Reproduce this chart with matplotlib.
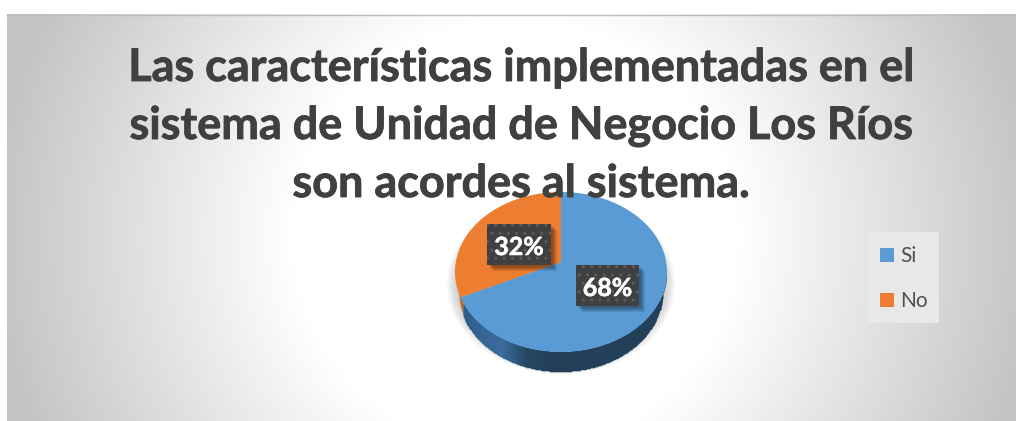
import numpy as np
import matplotlib
matplotlib.use('Agg')
import matplotlib.pyplot as plt
import matplotlib.patheffects as pe
from matplotlib.colors import LinearSegmentedColormap
from matplotlib.patches import Rectangle, Ellipse, Polygon
from matplotlib.transforms import Affine2D

categories = ['Si', 'No']
values = [68, 32]
title_lines = ['Las características implementadas en el',
               'sistema de Unidad de Negocio Los Ríos',
               'son acordes al sistema.']
colors = ['#5B9BD5', '#ED7D31']

W, H = 1016, 421
plt.rcParams['font.family'] = ['Lato', 'DejaVu Sans']
fig = plt.figure(figsize=(W / 100, H / 100), dpi=100, facecolor='white')

# background panel, everything on it is in pixel coords
bg = fig.add_axes([0, 0, 1, 1])
xx, yy = np.meshgrid(np.arange(7, W), np.arange(14, H))
r = np.sqrt(((xx - 515) / 222) ** 2 + ((yy - 235) / 215) ** 2)
grey = LinearSegmentedColormap.from_list('panel', ['#ffffff', '#c4c4c4'])
bg.imshow(r, extent=(7, W, H, 14), cmap=grey, vmin=1, vmax=2.35, aspect='auto')
bg.set_xlim(0, W)
bg.set_ylim(H, 0)
bg.axis('off')
bg.plot([7, W], [14.5, 14.5], color='#bdbdbd', lw=1)

# soft shadow under the pie
for i in range(10):
    bg.add_patch(Ellipse((561, 284), 228 - i * 3, 180 - i * 3,
                         facecolor='#808080', edgecolor='none', alpha=0.06))

# pie axes: the box of the top ellipse
cx, cy, rx, ry = 561, 272, 106, 80
depth = 20 / ry
tilt = 10 / ry  # apex sits above the ellipse centre
ax = fig.add_axes([(cx - rx) / W, 1 - (cy + ry) / H, 2 * rx / W, 2 * ry / H])


def warp(pts):
    # perspective of the tilted disc, keeps the rim on the ellipse
    px, py = pts[:, 0], pts[:, 1]
    k = 1 + tilt * py
    return np.column_stack([px * np.sqrt(1 - tilt ** 2) / k, (py + tilt) / k])


wedges, _ = ax.pie(values, colors=colors, startangle=90, counterclock=False, radius=1)
for w, col in zip(wedges, colors):
    # flatten at a large scale so the arc stays smooth
    big = w.get_path().transformed(w.get_patch_transform() + Affine2D().scale(1000))
    poly = big.to_polygons()[0] / 1000
    w.set_visible(False)
    ax.add_patch(Polygon(warp(poly), closed=True, facecolor=col, edgecolor='none', zorder=3))

# side wall: between the top rim and a slightly narrower lower rim
x = np.linspace(-0.999, 0.999, 400)
top = -np.sqrt(1 - x ** 2)
low_rx = 102 / rx
low = -np.sqrt(np.clip(1 - (x / low_rx) ** 2, 0, 1)) - depth
low = np.where(np.abs(x) < low_rx, low, top)
low = np.minimum(low, top)

frac = values[1] / sum(values)
rim = warp(np.array([[np.sin(-2 * np.pi * frac), np.cos(2 * np.pi * frac)]]))[0]
wall_cut = rim[0] + 0.025
left = x <= wall_cut
ax.fill_between(x[left], top[left], low[left], color='#c0651f', lw=0, clip_on=False, zorder=1)

side_blue = LinearSegmentedColormap.from_list(
    'side', [(0, '#2b5a86'), (0.22, '#3b6c9c'), (0.34, '#254864'), (0.45, '#233f58'), (1, '#23405a')])
xs = x[~left]
X = np.vstack([xs, xs])
Y = np.vstack([top[~left], low[~left]])
C = (xs[:-1] + 1) / 2
ax.pcolormesh(X, Y, C[None, :], cmap=side_blue, vmin=0, vmax=1, shading='flat',
              clip_on=False, zorder=1, antialiased=True, edgecolors='face', lw=0.3)
ax.set_aspect('auto')
ax.set_xlim(-1, 1)
ax.set_ylim(-1, 1)

# data labels in dark dotted boxes
lab = fig.add_axes([0, 0, 1, 1])
lab.set_xlim(0, W)
lab.set_ylim(H, 0)
lab.axis('off')
boxes = [(576, 265, 63, 41), (487, 224, 64, 41)]
for val, (bx, by, bw, bh) in zip(values, boxes):
    for s in range(1, 6):
        lab.add_patch(Rectangle((bx + s + 1, by + s + 1), bw, bh, facecolor='black',
                                edgecolor='none', alpha=0.09))
    lab.add_patch(Rectangle((bx, by), bw, bh, facecolor='#404040', edgecolor='#5c5c5c',
                            hatch='..', lw=0))
    lab.text(bx + bw / 2, by + bh / 2 + 1, f'{val}%', color='white', fontsize=18,
             fontweight='bold', ha='center', va='center_baseline',
             path_effects=[pe.withStroke(linewidth=0.4, foreground='white')])

# title sits on top of the pie
for line, y in zip(title_lines, [81, 139, 197]):
    lab.text(521, y, line, color='#404040', fontsize=32.4, fontweight='bold',
             ha='center', va='baseline',
             path_effects=[pe.withStroke(linewidth=0.6, foreground='#404040')])

# legend
lab.add_patch(Rectangle((867, 232), 72, 91, facecolor='#e8e8e8', edgecolor='none'))
for name, col, y in zip(categories, colors, [255, 300]):
    lab.add_patch(Rectangle((880, y - 7), 14, 14, facecolor=col, edgecolor='none'))
    lab.text(900, y + 1, name, color='#505050', fontsize=15, ha='left', va='center')

fig.savefig('out.png', dpi=100)
